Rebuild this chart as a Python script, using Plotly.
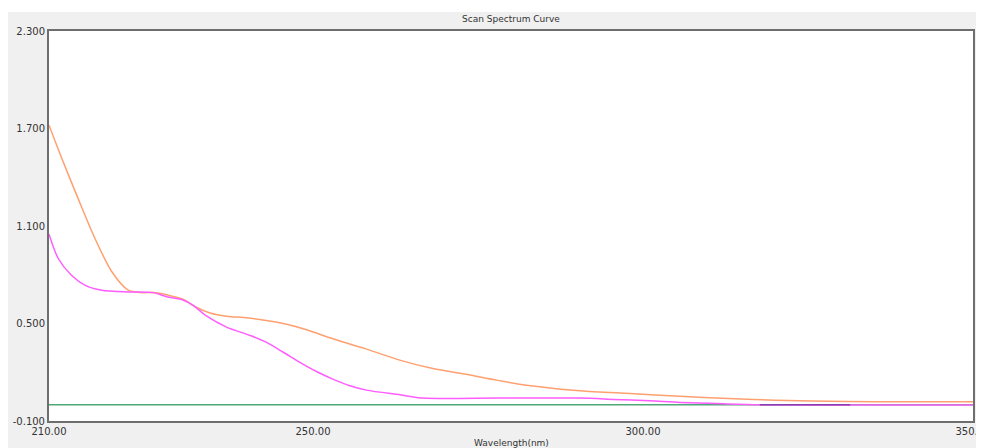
import plotly.graph_objects as go

# Data
orange_nm = [210, 211.9, 214.4, 217, 219.5, 222, 224, 225.8, 228, 230.3, 232.3, 234.4,
             236.9, 240, 242.9, 246, 249, 253, 258, 263, 268, 273, 278, 283, 290.5, 298,
             305.6, 313, 320, 331, 340, 350]
orange_abs = [1.72, 1.52, 1.27, 1.02, 0.82, 0.705, 0.69, 0.69, 0.675, 0.65, 0.60, 0.565,
              0.545, 0.535, 0.518, 0.495, 0.462, 0.406, 0.344, 0.276, 0.224, 0.189, 0.15,
              0.117, 0.086, 0.069, 0.052, 0.038, 0.028, 0.02, 0.018, 0.018]

magenta_nm = [210, 211.4, 213.4, 215.5, 218, 222, 225.8, 227.8, 230.3, 231.9, 233.9,
              236.9, 240.5, 242.9, 245.5, 248, 250.6, 253, 255.6, 258.1, 263.2, 266.7, 278.3,
              290.5, 295.5, 301, 305.6, 311.2, 317.7, 331, 350]
magenta_abs = [1.05, 0.90, 0.797, 0.735, 0.705, 0.694, 0.69, 0.665, 0.645, 0.61, 0.545,
               0.478, 0.426, 0.385, 0.323, 0.261, 0.203, 0.158, 0.117, 0.09, 0.061, 0.041,
               0.041, 0.041, 0.033, 0.024, 0.014, 0.007, 0.0, -0.002, -0.002]

purple_nm = [317.7, 331.4]
purple_abs = [0.0, 0.0]

green_nm = [210, 350]
green_abs = [0.0, 0.0]

x_ticks = [210, 250, 300, 350]
y_ticks = [-0.1, 0.5, 1.1, 1.7, 2.3]

fig = go.Figure()
fig.add_trace(go.Scatter(x=green_nm, y=green_abs, mode="lines",
                         line=dict(color="#4fa877", width=1.5), showlegend=False))
fig.add_trace(go.Scatter(x=orange_nm, y=orange_abs, mode="lines", line_shape="spline",
                         line=dict(color="#ffa070", width=1.5, smoothing=0.8), showlegend=False))
fig.add_trace(go.Scatter(x=magenta_nm, y=magenta_abs, mode="lines", line_shape="spline",
                         line=dict(color="#ff5cff", width=1.5, smoothing=0.8), showlegend=False))
fig.add_trace(go.Scatter(x=purple_nm, y=purple_abs, mode="lines",
                         line=dict(color="#8a3fb0", width=1.5), showlegend=False))

FF = "DejaVu Sans, Liberation Sans, sans-serif"
font = dict(family=FF, size=10, color="#333333")

# The page adds an 8px body margin, so the figure is 976x440 placed at (8, 8).
W, H = 976, 440
fig.update_layout(
    width=W, height=H,
    margin=dict(l=41, r=11, t=23, b=27),
    paper_bgcolor="#f0f0f0",
    plot_bgcolor="#ffffff",
    font=font,
    title=dict(text="Scan Spectrum Curve", x=503 / W, xanchor="center",
               y=1 - 11 / H, yref="container", yanchor="middle",
               font=dict(size=9, color="#333333", family=FF)),
    shapes=[
        dict(type="rect", xref="paper", yref="paper", x0=-0.1, x1=1.1,
             y0=1 + 19 / 390, y1=1.2, fillcolor="white", line_width=0, layer="below"),
    ],
    annotations=[
        dict(text="Wavelength(nm)", xref="paper", yref="paper", x=0.5, y=-22 / 390,
             xanchor="center", yanchor="middle", showarrow=False,
             font=dict(size=9, color="#333333", family=FF)),
    ],
)
fig.update_xaxes(range=[210, 350], tickvals=x_ticks, ticktext=[f"{v:.2f}" for v in x_ticks],
                 showgrid=False, zeroline=False, showline=True, linecolor="#6e6e6e",
                 linewidth=2, mirror=True, ticks="", automargin=False,
                 ticklabeloverflow="allow", tickfont=dict(size=10))
fig.update_yaxes(range=[-0.1, 2.3], tickvals=y_ticks, ticktext=[f"{v:.3f}" for v in y_ticks],
                 showgrid=False, zeroline=False, showline=True, linecolor="#6e6e6e",
                 linewidth=2, mirror=True, ticks="", automargin=False,
                 tickfont=dict(size=10))

fig.write_html("out.html")
